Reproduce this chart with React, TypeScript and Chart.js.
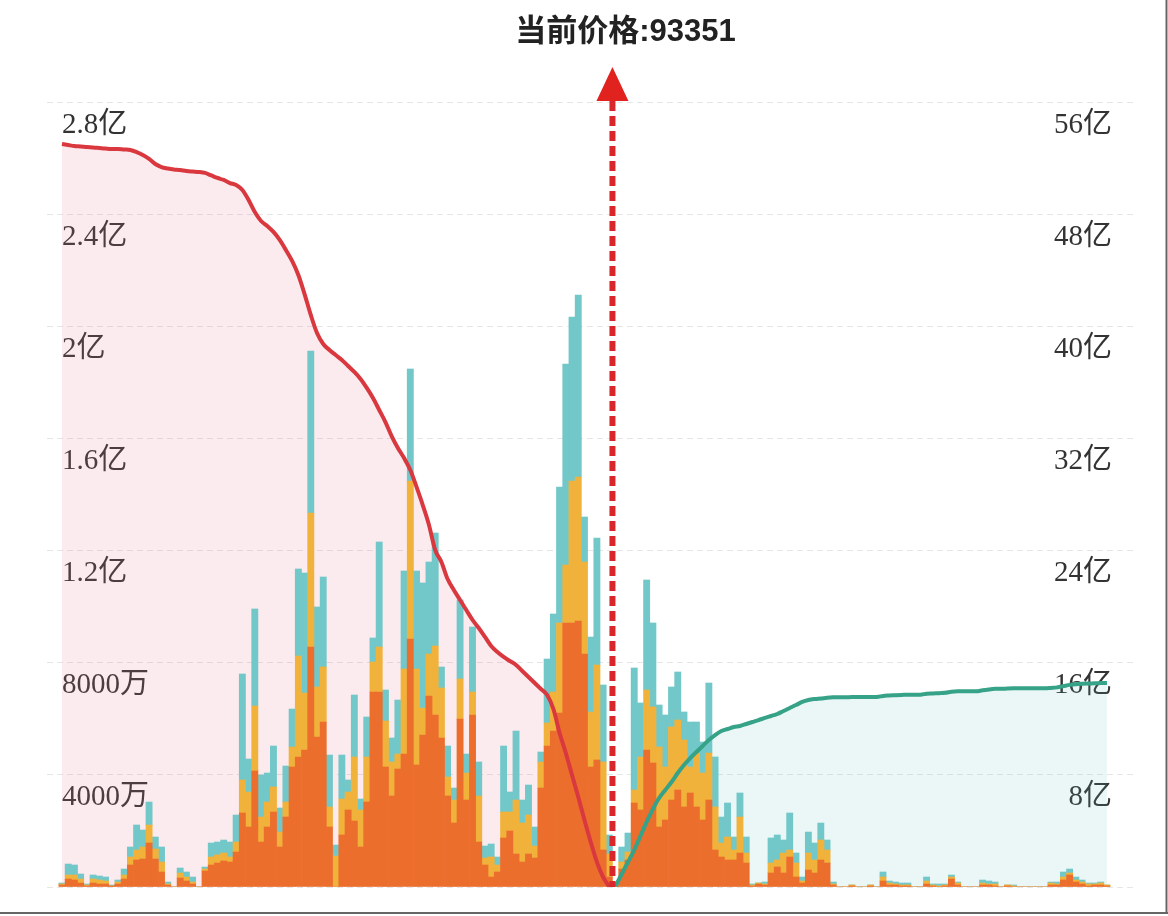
import React, { useEffect, useRef } from "react";
import { Chart, registerables } from "chart.js";

Chart.register(...registerables);

// ---- text / constants ----
const TITLE = "当前价格:93351";
const PRICE_POSITION = 88.5; // boundary between bar 88 and bar 89
const ASK_START = 89;
const LEFT_MAX = 28000; // 万
const LEFT_STEP = 4000;
const RIGHT_MAX = 56; // 亿
const RIGHT_STEP = 8;
const LEFT_TICK_LABELS = ["", "4000万", "8000万", "1.2亿", "1.6亿", "2亿", "2.4亿", "2.8亿"];
const RIGHT_TICK_LABELS = ["", "8亿", "16亿", "24亿", "32亿", "40亿", "48亿", "56亿"];
const X_MIN = -2.41;
const X_MAX = 172.19;

// ---- bar series (万) ----
const orangeVals = [
  71, 285, 250, 143, 36, 143, 107, 107, 36, 107,
  285, 785, 963, 999, 1569, 999, 535, 71, 0, 321,
  214, 107, 0, 571, 785, 856, 927, 892, 1248, 2640,
  2140, 4138, 1605, 2140, 2675, 1427, 2497, 4280, 4637, 4887,
  8561, 5351, 5886, 2140, 0, 1855, 2747, 2354, 1427, 3032,
  6956, 6956, 4280, 3246, 4209, 4744, 8846, 4352, 5422, 6813,
  6135, 5315, 3246, 2283, 5993, 3103, 6135, 1605, 785, 357,
  535, 1748, 1998, 1177, 892, 1177, 1034, 3531, 5029, 5565,
  6207, 9417, 9417, 9488, 8311, 4280, 4530, 1320, 357, 36,
  642, 963, 2996, 2747, 4887, 4423, 2140, 2390, 3103, 3460,
  2854, 3353, 2854, 2390, 3103, 1320, 1070, 963, 963, 1213,
  856, 36, 107, 71, 499, 713, 499, 1070, 357, 143,
  606, 499, 963, 856, 71, 0, 0, 36, 0, 0,
  36, 0, 214, 71, 71, 36, 36, 0, 0, 107,
  36, 0, 36, 285, 71, 0, 0, 0, 71, 71,
  36, 0, 36, 0, 0, 0, 0, 0, 0, 71,
  71, 250, 428, 178, 107, 36, 71, 71, 36,
];

const yellowVals = [
  36, 143, 178, 143, 36, 143, 143, 107, 0, 71,
  143, 285, 357, 428, 642, 357, 357, 36, 0, 178,
  143, 71, 0, 71, 285, 285, 285, 178, 357, 1177,
  1248, 2319, 892, 892, 892, 535, 535, 713, 3603, 2033,
  4780, 1784, 1962, 713, 1106, 1284, 642, 2283, 1320, 1605,
  1070, 1605, 1641, 1213, 535, 3032, 5636, 3424, 963, 1498,
  2461, 1784, 678, 820, 1427, 963, 820, 1641, 250, 713,
  250, 927, 678, 1926, 1391, 1391, 428, 927, 820, 1391,
  3210, 2069, 5065, 5136, 3282, 1962, 3389, 3139, 820, 36,
  250, 285, 464, 1891, 2140, 1998, 2854, 1891, 2604, 2497,
  2390, 927, 1926, 1676, 1676, 1534, 499, 820, 357, 1284,
  357, 36, 36, 36, 357, 250, 713, 250, 499, 71,
  606, 464, 713, 464, 36, 0, 0, 36, 0, 0,
  36, 0, 143, 71, 36, 36, 36, 0, 0, 107,
  36, 36, 36, 71, 71, 0, 0, 0, 71, 36,
  71, 0, 36, 36, 0, 0, 0, 0, 0, 71,
  36, 107, 71, 71, 71, 71, 36, 71, 36,
];

const tealVals = [
  36, 392, 357, 178, 36, 143, 143, 143, 36, 71,
  214, 357, 892, 606, 820, 428, 535, 71, 0, 178,
  178, 178, 0, 71, 499, 464, 464, 535, 963, 3781,
  1177, 3460, 1498, 1034, 1462, 856, 1284, 1355, 3103, 4280,
  5779, 2854, 3210, 1855, 392, 1569, 428, 2212, 392, 1427,
  856, 3745, 1106, 856, 1926, 3496, 3995, 3496, 4459, 3282,
  4031, 749, 1106, 428, 2818, 678, 2319, 1213, 428, 464,
  285, 2354, 713, 2461, 820, 1070, 678, 357, 2283, 2782,
  4851, 7170, 5850, 6492, 1605, 2675, 4530, 2747, 678, 36,
  535, 678, 4352, 1926, 3924, 2996, 1498, 1855, 1427, 1712,
  999, 1605, 1106, 1106, 2497, 1784, 927, 1213, 464, 856,
  571, 36, 0, 71, 892, 892, 464, 1320, 357, 143,
  749, 606, 606, 357, 71, 0, 0, 0, 0, 0,
  0, 0, 178, 71, 71, 71, 71, 0, 0, 143,
  36, 71, 36, 71, 36, 0, 0, 0, 107, 107,
  71, 0, 0, 36, 0, 0, 0, 0, 0, 36,
  71, 178, 143, 107, 71, 36, 36, 36, 0,
];

// ---- cumulative lines (亿) ----
const bidCumulative = [
  53.0, 52.93, 52.86, 52.83, 52.79, 52.76, 52.72, 52.68, 52.65, 52.65,
  52.61, 52.58, 52.43, 52.22, 51.94, 51.58, 51.36, 51.26, 51.19, 51.15,
  51.08, 51.04, 51.01, 50.94, 50.76, 50.58, 50.44, 50.22, 50.08, 49.72,
  49.01, 48.15, 47.51, 47.16, 46.73, 46.16, 45.44, 44.66, 43.66, 42.3,
  40.81, 39.52, 38.74, 38.31, 37.95, 37.6, 37.17, 36.74, 36.24, 35.6,
  34.88, 34.03, 33.17, 32.17, 31.32, 30.6, 29.75, 28.54, 27.25, 25.83,
  24.04, 23.19, 21.97, 21.19, 20.47, 19.76, 19.05, 18.48, 17.84, 17.19,
  16.76, 16.41, 16.12, 15.84, 15.41, 14.98, 14.55, 14.13, 13.7, 12.7,
  10.99, 9.56, 7.99, 6.42, 4.78, 3.21, 1.78, 0.71, 0,
];

const askCumulative = [
  0.07, 0.93, 1.78, 2.64, 3.64, 4.64, 5.56, 6.35, 6.92, 7.49,
  8.13, 8.7, 9.2, 9.63, 10.06, 10.49, 10.84, 11.13, 11.27, 11.41,
  11.49, 11.63, 11.77, 11.91, 12.06, 12.2, 12.34, 12.56, 12.77, 12.98,
  13.2, 13.34, 13.41, 13.45, 13.5, 13.53, 13.54, 13.54, 13.55, 13.55,
  13.55, 13.56, 13.56, 13.63, 13.66, 13.68, 13.7, 13.72, 13.72, 13.72,
  13.79, 13.81, 13.83, 13.85, 13.93, 13.96, 13.96, 13.96, 13.96, 14.03,
  14.09, 14.14, 14.14, 14.16, 14.17, 14.17, 14.17, 14.17, 14.17, 14.17,
  14.2, 14.24, 14.33, 14.42, 14.47, 14.5, 14.52, 14.53, 14.55, 14.56,
];

const COLORS = {
  orange: "#ec6e2d",
  yellow: "#f1b23c",
  teal: "#72c7c9",
  red: "#d9383f",
  redFill: "rgba(230,120,140,0.15)",
  green: "#36a287",
  greenFill: "rgba(100,190,190,0.13)",
  marker: "#d8262a",
};

const tickFont = { family: '"Liberation Serif", "Noto Sans CJK SC", serif', size: 29 };

const collapseAxis = (scale: any) => {
  scale.width = 0;
  scale.paddingTop = 0;
  scale.paddingBottom = 0;
  scale.paddingLeft = 0;
  scale.paddingRight = 0;
};

export default function App() {
  const ref = useRef<HTMLCanvasElement | null>(null);

  useEffect(() => {
    const canvas = ref.current;
    if (!canvas) return;

    const overlay = {
      id: "overlay",
      afterDatasetsDraw(chart: any) {
        const { ctx, chartArea } = chart;
        const x = chart.scales.x.getPixelForValue(PRICE_POSITION);
        ctx.save();
        // dashed price line
        ctx.strokeStyle = COLORS.marker;
        ctx.lineWidth = 6;
        ctx.setLineDash([10, 5]);
        ctx.beginPath();
        ctx.moveTo(x, chartArea.top - 1);
        ctx.lineTo(x, chartArea.bottom);
        ctx.stroke();
        ctx.setLineDash([]);
        // triangle
        ctx.fillStyle = "#e0231f";
        ctx.beginPath();
        ctx.moveTo(x, chartArea.top - 35);
        ctx.lineTo(x - 16, chartArea.top - 1);
        ctx.lineTo(x + 16, chartArea.top - 1);
        ctx.closePath();
        ctx.fill();
        // title
        ctx.fillStyle = "#222";
        ctx.font = '700 31px "Liberation Sans", "Noto Sans CJK SC", sans-serif';
        ctx.textAlign = "center";
        ctx.textBaseline = "middle";
        ctx.fillText(TITLE, x + 13, 32);
        // frame lines
        ctx.strokeStyle = "#666";
        ctx.lineWidth = 2;
        ctx.beginPath();
        ctx.moveTo(0, 913);
        ctx.lineTo(chart.width, 913);
        ctx.moveTo(chart.width - 1.5, 0);
        ctx.lineTo(chart.width - 1.5, 913);
        ctx.stroke();
        ctx.restore();
      },
    };

    const barDs = (label: string, vals: number[], color: string) => ({
      type: "bar" as const,
      label,
      data: vals.map((v, i) => ({ x: i, y: v })),
      backgroundColor: color,
      borderWidth: 0,
      barPercentage: 1,
      categoryPercentage: 1,
      yAxisID: "y",
      stack: "depth",
      order: 1,
    });

    const chart = new Chart(canvas, {
      type: "bar",
      data: {
        datasets: [
          barDs("orange", orangeVals, COLORS.orange),
          barDs("yellow", yellowVals, COLORS.yellow),
          barDs("teal", tealVals, COLORS.teal),
          {
            type: "line",
            label: "bid",
            data: bidCumulative.map((v, i) => ({ x: i, y: v })),
            borderColor: COLORS.red,
            backgroundColor: COLORS.redFill,
            borderWidth: 4,
            pointRadius: 0,
            fill: "origin",
            cubicInterpolationMode: "monotone",
            yAxisID: "yR",
            order: 0,
          },
          {
            type: "line",
            label: "ask",
            data: askCumulative.map((v, i) => ({ x: ASK_START + i, y: v })),
            borderColor: COLORS.green,
            backgroundColor: COLORS.greenFill,
            borderWidth: 4,
            pointRadius: 0,
            fill: "origin",
            cubicInterpolationMode: "monotone",
            yAxisID: "yR",
            order: 0,
          },
        ] as any,
      },
      options: {
        animation: false,
        responsive: true,
        maintainAspectRatio: false,
        devicePixelRatio: 1,
        layout: { padding: { left: 47, right: 35, top: 102, bottom: 29 } },
        plugins: {
          legend: { display: false },
          tooltip: { enabled: false },
          filler: { drawTime: "beforeDatasetsDraw" },
        } as any,
        scales: {
          x: {
            type: "linear",
            min: X_MIN,
            max: X_MAX,
            offset: false,
            stacked: true,
            display: false,
          },
          y: {
            type: "linear",
            position: "left",
            min: 0,
            max: LEFT_MAX,
            stacked: true,
            afterFit: collapseAxis,
            grid: { color: "#e6e6e6", lineWidth: 1, drawTicks: false },
            border: { display: false, dash: [6, 4] },
            ticks: {
              stepSize: LEFT_STEP,
              mirror: true,
              padding: 15,
              labelOffset: 23,
              color: "#333",
              font: tickFont,
              callback: (_v: any, i: number) => LEFT_TICK_LABELS[i] ?? "",
            },
          },
          yR: {
            type: "linear",
            position: "right",
            min: 0,
            max: RIGHT_MAX,
            afterFit: collapseAxis,
            grid: { display: false, drawTicks: false },
            border: { display: false },
            ticks: {
              stepSize: RIGHT_STEP,
              mirror: true,
              padding: -21,
              labelOffset: 23,
              color: "#333",
              font: tickFont,
              callback: (_v: any, i: number) => RIGHT_TICK_LABELS[i] ?? "",
            },
          },
        },
      } as any,
      plugins: [overlay],
    });

    return () => chart.destroy();
  }, []);

  return (
    <div
      style={{
        position: "absolute",
        left: 0,
        top: 0,
        width: 1168,
        height: 916,
        background: "#fff",
      }}
    >
      <canvas ref={ref} />
    </div>
  );
}
